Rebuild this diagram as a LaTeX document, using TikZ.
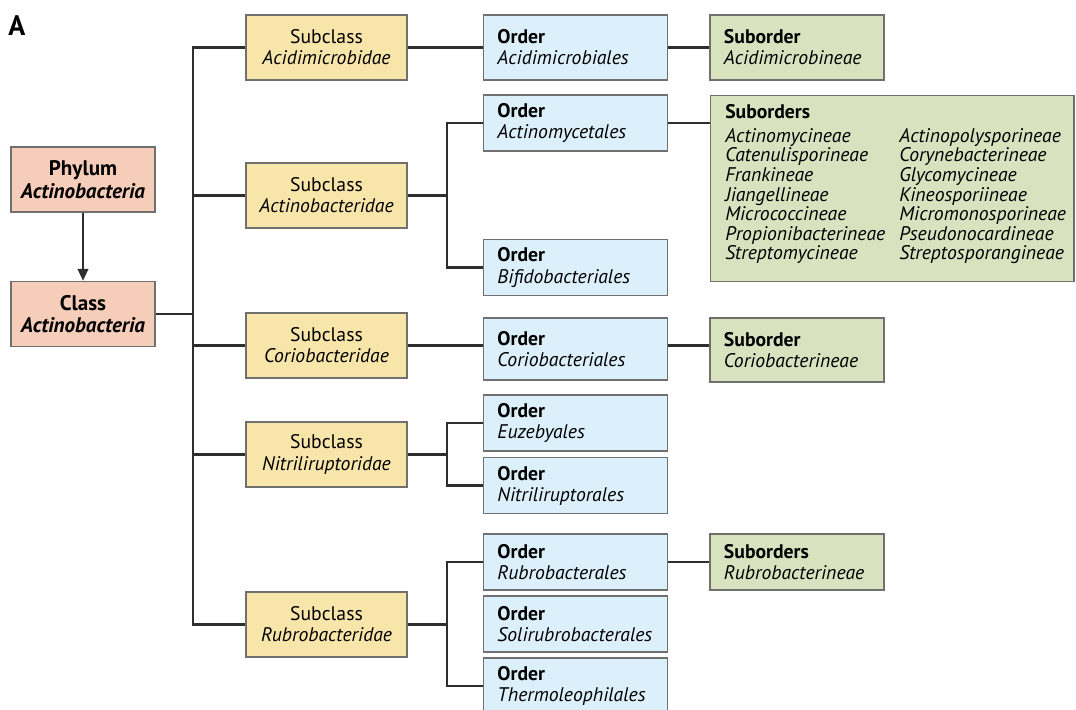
\documentclass[tikz,border=0pt]{standalone}
\usepackage{fontspec}
\setmainfont{PT Sans}
\usetikzlibrary{arrows.meta}

\definecolor{rankfill}{HTML}{F6CDB9}
\definecolor{subclassfill}{HTML}{F8E5A9}
\definecolor{orderfill}{HTML}{DCF0FB}
\definecolor{suborderfill}{HTML}{D8E2BE}
\definecolor{boxedge}{HTML}{707070}
\definecolor{linkcolor}{HTML}{2E2E2E}

\tikzset{
  box/.style={draw=boxedge, line width=1pt, inner sep=0pt, minimum height=1.625cm,
              font=\fontsize{14}{15}\selectfont},
  rankbox/.style={box, fill=rankfill, minimum width=3.6cm, align=center,
                  font=\fontsize{15}{16}\selectfont},
  subclassbox/.style={box, fill=subclassfill, minimum width=4.025cm, align=center},
  orderbox/.style={box, fill=orderfill, text width=3.9cm, inner xsep=0.35cm, align=left, minimum height=1.4cm},
  suborderbox/.style={box, fill=suborderfill, text width=3.65cm, inner xsep=0.35cm, align=left},
  link/.style={draw=linkcolor, line width=1.6pt},
}

\begin{document}
\begin{tikzpicture}[x=0.025cm, y=-0.025cm]
  \useasboundingbox (0,0) rectangle (1076,709);

  \node[font=\fontsize{20}{20}\selectfont\bfseries] (panel) at (17,26) {A};

  % phylum and class
  \node[rankbox] (phylum) at (83,179.5) {\textbf{Phylum}\\\textbf{\textit{Actinobacteria}}};
  \node[rankbox] (class)  at (83,314)   {\textbf{Class}\\\textbf{\textit{Actinobacteria}}};

  % subclasses
  \node[subclassbox] (acidimicrobidae)   at (326.5,47.5)  {Subclass\\\textit{Acidimicrobidae}};
  \node[subclassbox] (actinobacteridae)  at (326.5,195.5) {Subclass\\\textit{Actinobacteridae}};
  \node[subclassbox] (coriobacteridae)   at (326.5,345.5) {Subclass\\\textit{Coriobacteridae}};
  \node[subclassbox] (nitriliruptoridae) at (326.5,454.5) {Subclass\\\textit{Nitriliruptoridae}};
  \node[subclassbox] (rubrobacteridae)   at (326.5,624.5) {Subclass\\\textit{Rubrobacteridae}};

  % orders
  \node[orderbox, minimum height=1.625cm] (acidimicrobiales) at (575.5,47.5) {\textbf{Order}\\\textit{Acidimicrobiales}};
  \node[orderbox] (actinomycetales)     at (575.5,123)   {\textbf{Order}\\\textit{Actinomycetales}};
  \node[orderbox] (bifidobacteriales)   at (575.5,267.5) {\textbf{Order}\\\textit{Bifidobacteriales}};
  \node[orderbox, minimum height=1.55cm] (coriobacteriales) at (575.5,349) {\textbf{Order}\\\textit{Coriobacteriales}};
  \node[orderbox] (euzebyales)          at (575.5,423)   {\textbf{Order}\\\textit{Euzebyales}};
  \node[orderbox] (nitriliruptorales)   at (575.5,485.5) {\textbf{Order}\\\textit{Nitriliruptorales}};
  \node[orderbox] (rubrobacterales)     at (575.5,562)   {\textbf{Order}\\\textit{Rubrobacterales}};
  \node[orderbox] (solirubrobacterales) at (575.5,624)   {\textbf{Order}\\\textit{Solirubrobacterales}};
  \node[orderbox] (thermoleophilales)   at (575.5,686)   {\textbf{Order}\\\textit{Thermoleophilales}};

  % suborders
  \node[suborderbox] (acidimicrobineae) at (797,47.5) {\textbf{Suborder}\\\textit{Acidimicrobineae}};
  \node[suborderbox, minimum height=1.6cm] (coriobacterineae) at (797,350) {\textbf{Suborder}\\\textit{Coriobacterineae}};
  \node[suborderbox, minimum height=1.4cm] (rubrobacterineae) at (797,562) {\textbf{Suborders}\\\textit{Rubrobacterineae}};
  \node[box, fill=suborderfill, minimum width=9.075cm, minimum height=4.65cm,
        anchor=north west] (suborders) at (710,95) {};
  \node[anchor=north west, inner sep=0pt, font=\fontsize{14}{13.4}\selectfont]
    (suborderlist) at ([xshift=0.375cm, yshift=-0.225cm]suborders.north west)
    {\begin{tabular}{@{}p{4.35cm}@{}l@{}}
       \multicolumn{2}{@{}l@{}}{\textbf{Suborders}}\\[3pt]
       \itshape Actinomycineae      & \itshape Actinopolysporineae\\
       \itshape Catenulisporineae   & \itshape Corynebacterineae\\
       \itshape Frankineae          & \itshape Glycomycineae\\
       \itshape Jiangellineae       & \itshape Kineosporiineae\\
       \itshape Micrococcineae      & \itshape Micromonosporineae\\
       \itshape Propionibacterineae & \itshape Pseudonocardineae\\
       \itshape Streptomycineae     & \itshape Streptosporangineae
     \end{tabular}};

  % connectors
  \coordinate (trunk) at (193,314);
  \coordinate (actbus) at (447,195.5);
  \coordinate (nitbus) at (447,454.5);
  \coordinate (rubbus) at (447,624.5);

  \draw[link, -{Triangle[length=8.5pt, width=7.5pt]}] (phylum) -- (class);
  \draw[link] (class) -- (trunk);
  \draw[link] (acidimicrobidae.west) -| (trunk) |- (rubrobacteridae.west);
  \draw[link] (trunk |- actinobacteridae) -- (actinobacteridae);
  \draw[link] (trunk |- coriobacteridae) -- (coriobacteridae);
  \draw[link] (trunk |- nitriliruptoridae) -- (nitriliruptoridae);

  \draw[link] (acidimicrobidae) -- (acidimicrobiales);
  \draw[link] (acidimicrobiales) -- (acidimicrobineae);
  \draw[link] (actinobacteridae) -- (actbus);
  \draw[link] (actinomycetales.west) -| (actbus) |- (bifidobacteriales.west);
  \draw[link] (actinomycetales.east) -- (actinomycetales.east -| suborders.west);
  \draw[link] (coriobacteridae.east) -- (coriobacteridae.east -| coriobacteriales.west);
  \draw[link] (coriobacteriales.east |- coriobacteridae) -- (coriobacterineae.west |- coriobacteridae);
  \draw[link] (nitriliruptoridae) -- (nitbus);
  \draw[link] (euzebyales.west) -| (nitbus) |- (nitriliruptorales.west);
  \draw[link] (rubrobacteridae) -- (rubbus);
  \draw[link] (rubrobacterales.west) -| (rubbus) |- (thermoleophilales.west);
  \draw[link] (rubrobacterales) -- (rubrobacterineae);
\end{tikzpicture}
\end{document}
